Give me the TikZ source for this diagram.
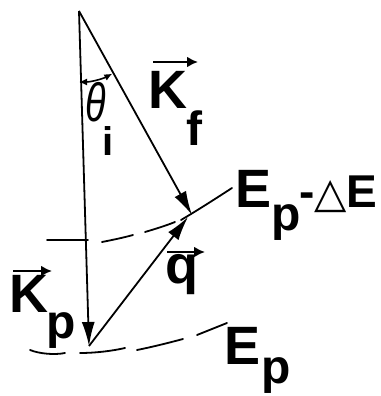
\documentclass[tikz,border=0pt]{standalone}
\usepackage{fontspec}
\setmainfont{Liberation Sans}
\newfontfamily\symfont{DejaVu Sans}
\usetikzlibrary{arrows.meta}
\begin{document}
\begin{tikzpicture}[x=1pt,y=-1pt,
  vecline/.style={line width=1.8pt,-{Latex[length=24pt,width=13pt]}},
  level/.style={line width=1.8pt,line cap=round},
  lbl/.style={inner sep=0pt,anchor=base west,font=\fontsize{54}{54}\selectfont\bfseries},
  sub/.style={inner sep=0pt,anchor=base west,font=\fontsize{48}{48}\selectfont\bfseries},
  overarrow/.style={line width=2.4pt,-{Latex[length=11pt,width=11pt]}},
  anglemark/.style={line width=1.6pt,{Latex[length=8pt,width=7pt]}-{Latex[length=8pt,width=7pt]}}]
\useasboundingbox (0,0) rectangle (380,396);
\coordinate (O) at (79,11);
\coordinate (P) at (89,346);
\coordinate (F) at (192,215);
\coordinate (Q) at (188,217);
% vectors
\draw[vecline] (O) -- (P);
\draw[vecline] (O) -- (F);
\draw[vecline] (P) -- (Q);
% angle
\draw[anglemark] ([shift={(90:71)}]O) arc[start angle=90,end angle=62,radius=71];
% level E_p - Delta E
\draw[level] (47,240) .. controls (60,240) and (75,240) .. (88,240);
\draw[level] (102,242) .. controls (112,240) and (122,238) .. (133,235);
\draw[level] (145,232) .. controls (155,229) and (165,226) .. (175,222);
\draw[level] (181,220) .. controls (198,210) and (215,199) .. (232,188);
% level E_p
\draw[level] (30,350) .. controls (40,354) and (55,355) .. (65,353);
\draw[level] (80,353) .. controls (95,353) and (112,351) .. (125,348);
\draw[level] (137,350) .. controls (152,347) and (168,343) .. (183,339);
\draw[level] (197,335) .. controls (207,331) and (217,327) .. (227,323);
% labels
\node[lbl] (kf) at (148,108) {K};
\node[sub] (kfs) at (186,145) {f};
\draw[overarrow] (153,62) -- (198,62);
\node[lbl,font=\fontsize{54}{54}\selectfont\itshape,xscale=0.7] (th) at (85,121) {θ};
\node[sub,font=\fontsize{40}{40}\selectfont\bfseries] (ths) at (102,155) {i};
\node[lbl] (e1) at (235,207) {E};
\node[sub] (e1s) at (271,230) {p};
\node[lbl,font=\fontsize{46}{46}\selectfont\bfseries] (de) at (299,207) {-{\symfont\fontsize{42}{42}\selectfont △}E};
\node[lbl] (q) at (165,283) {q};
\draw[overarrow] (167,252) -- (205,252);
\node[lbl] (kp) at (9,312) {K};
\draw[overarrow] (13,271) -- (52,271);
\node[sub] (kps) at (46,338) {p};
\node[lbl] (ep) at (224,364) {E};
\node[sub] (eps) at (261,383) {p};
\end{tikzpicture}
\end{document}
